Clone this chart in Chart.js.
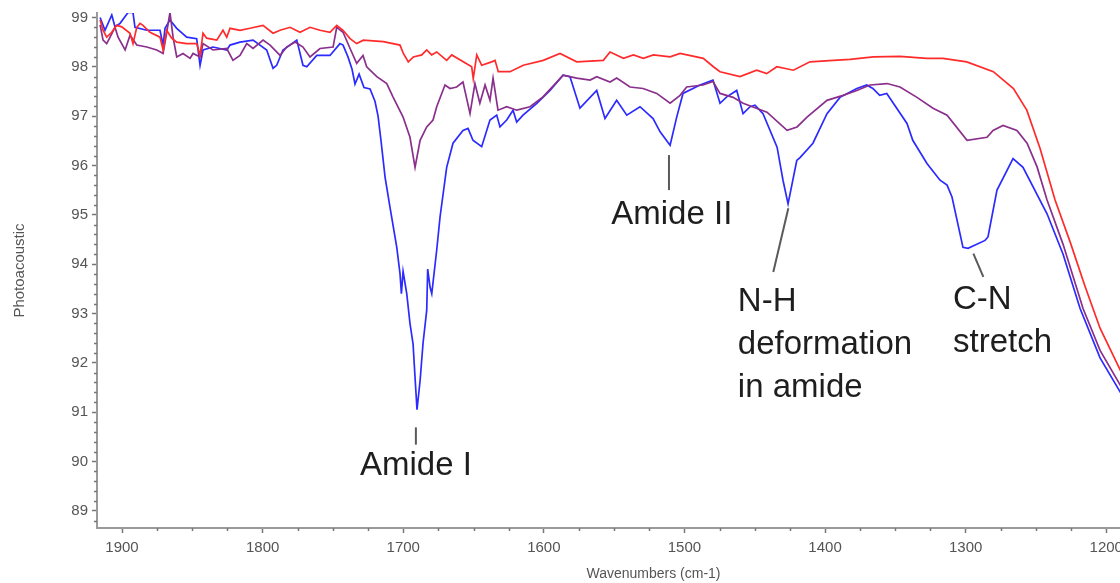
<!DOCTYPE html>
<html>
<head>
<meta charset="utf-8">
<title>Photoacoustic spectrum</title>
<script src="https://cdn.jsdelivr.net/npm/chart.js@4.4.1/dist/chart.umd.min.js"></script>
<style>
  html, body { margin: 0; padding: 0; background: #fff; overflow: hidden; }
  #wrap { width: 1210px; height: 583px; }
</style>
</head>
<body>
<div id="wrap"><canvas id="spectrum" width="1210" height="583"></canvas></div>
<script>
// wavenumbers (cm-1) and photoacoustic signal
const redWn = [1915.6,1913.5,1910.9,1907.3,1903.8,1900.2,1894.3,1892.2,1889.5,1887.2,1885.1,1880.1,1873.0,1870.8,1868.2,1864.7,1861.1,1854.0,1846.9,1844.5,1842.4,1839.8,1832.6,1828.2,1825.5,1823.2,1816.1,1809.0,1799.7,1792.6,1787.6,1780.5,1773.4,1766.3,1759.2,1752.1,1747.3,1742.8,1737.8,1733.1,1728.4,1714.2,1702.3,1699.9,1696.4,1692.8,1686.8,1683.3,1679.8,1676.2,1669.1,1665.5,1657.3,1651.3,1650.2,1647.7,1644.2,1637.1,1634.7,1632.4,1624.0,1614.6,1600.4,1588.5,1576.6,1557.7,1552.9,1543.4,1536.3,1529.2,1522.1,1510.2,1503.1,1486.6,1479.4,1474.7,1460.5,1448.6,1441.5,1434.3,1422.5,1410.7,1394.1,1382.2,1365.6,1346.7,1327.7,1316.1,1299.2,1280.3,1266.0,1256.5,1247.1,1236.4,1225.7,1215.1,1204.4,1189.5];
const redVal = [98.95,98.74,98.6,98.7,98.84,98.81,98.68,98.47,98.8,98.88,98.84,98.7,98.6,98.34,98.74,98.58,98.5,98.47,98.47,98.23,98.68,98.58,98.54,98.74,98.6,98.78,98.74,98.78,98.84,98.68,98.74,98.8,98.7,98.8,98.74,98.7,98.84,98.74,98.57,98.47,98.54,98.51,98.44,98.27,98.1,98.2,98.24,98.34,98.24,98.3,98.13,98.24,98.1,98.0,97.76,98.24,98.03,98.1,98.13,97.9,97.9,98.03,98.13,98.27,98.1,98.13,98.3,98.17,98.24,98.17,98.24,98.2,98.27,98.17,98.0,97.9,97.8,97.93,97.86,98.0,97.93,98.1,98.13,98.15,98.2,98.21,98.17,98.17,98.1,97.9,97.56,97.12,96.35,95.3,94.45,93.55,92.7,91.82];

const purpleWn = [1915.6,1913.5,1910.9,1908.5,1905.0,1902.8,1897.8,1894.3,1889.5,1882.4,1875.3,1870.8,1868.2,1865.9,1863.7,1861.1,1856.6,1851.6,1849.5,1844.5,1842.4,1835.3,1825.5,1821.1,1816.1,1811.3,1806.8,1799.7,1794.7,1787.6,1782.9,1776.9,1771.3,1766.3,1759.2,1749.9,1747.3,1742.8,1737.8,1733.1,1728.6,1726.0,1718.8,1711.7,1707.3,1700.1,1695.2,1691.6,1688.0,1683.3,1678.8,1676.2,1670.3,1666.7,1662.0,1657.5,1652.5,1649.0,1645.5,1641.8,1638.3,1636.1,1632.6,1626.4,1619.3,1609.8,1600.6,1590.8,1586.3,1576.6,1567.1,1562.4,1552.9,1548.2,1538.7,1529.4,1519.7,1510.2,1503.1,1498.4,1486.8,1479.7,1474.7,1465.4,1458.3,1441.3,1427.0,1419.9,1412.8,1398.6,1387.2,1377.4,1368.0,1355.9,1346.7,1334.6,1323.2,1313.2,1299.0,1284.8,1280.5,1273.4,1263.5,1256.3,1249.2,1242.1,1230.7,1216.5,1204.4,1189.5];
const purpleVal = [98.85,98.54,98.47,98.6,98.8,98.6,98.34,98.64,98.44,98.4,98.34,98.27,98.7,99.1,98.6,98.2,98.27,98.17,98.27,98.2,98.47,98.34,98.37,98.13,98.23,98.47,98.37,98.54,98.44,98.23,98.4,98.5,98.4,98.2,98.37,98.4,98.8,98.7,98.37,98.07,98.23,98.0,97.8,97.66,97.39,96.98,96.57,95.96,96.51,96.78,96.92,97.19,97.63,97.56,97.59,97.69,97.05,97.66,97.26,97.63,97.32,97.77,97.12,97.19,97.12,97.19,97.39,97.69,97.83,97.77,97.73,97.8,97.69,97.77,97.59,97.56,97.46,97.26,97.42,97.59,97.63,97.7,97.46,97.38,97.26,97.08,96.71,96.78,96.98,97.32,97.42,97.52,97.63,97.66,97.59,97.38,97.16,97.02,96.51,96.57,96.71,96.81,96.71,96.45,95.97,95.3,94.4,93.1,92.25,91.52];

const blueWn = [1915.6,1912.1,1907.3,1905.0,1901.4,1895.7,1892.2,1890.8,1882.4,1873.0,1870.8,1869.4,1865.9,1861.1,1854.0,1846.9,1844.5,1842.4,1835.3,1825.5,1823.2,1816.1,1806.8,1797.1,1792.6,1790.0,1785.5,1775.7,1771.3,1768.6,1761.5,1752.1,1745.0,1742.8,1739.3,1736.4,1734.3,1731.4,1727.9,1723.6,1720.1,1717.9,1715.8,1712.9,1709.4,1704.6,1702.3,1701.3,1700.1,1697.5,1695.2,1693.0,1691.6,1690.2,1688.0,1685.9,1683.3,1682.6,1680.9,1679.7,1676.2,1673.8,1669.1,1664.6,1657.5,1653.9,1650.4,1644.2,1638.3,1633.5,1631.2,1626.4,1621.9,1619.3,1614.8,1605.0,1595.6,1586.3,1581.4,1574.3,1562.4,1556.5,1548.2,1541.0,1531.6,1522.3,1517.3,1510.2,1505.5,1501.0,1488.9,1479.7,1474.7,1469.9,1462.8,1458.3,1453.3,1449.8,1444.1,1434.1,1429.9,1426.3,1420.1,1417.8,1408.6,1398.6,1389.4,1377.4,1370.3,1366.0,1361.1,1356.1,1341.7,1337.6,1327.5,1318.2,1313.2,1309.7,1301.9,1298.3,1286.2,1284.1,1277.7,1266.3,1259.2,1242.1,1230.7,1218.6,1204.4,1189.5];
const blueVal = [99.0,98.74,99.05,98.81,98.88,99.1,99.1,98.8,98.74,98.74,98.44,98.78,98.95,98.78,98.6,98.57,98.03,98.34,98.4,98.34,98.44,98.5,98.54,98.34,97.97,98.03,98.34,98.54,98.03,98.0,98.23,98.23,98.47,98.44,98.2,97.95,97.65,97.85,97.58,97.55,97.3,97.0,96.5,95.76,95.15,94.34,93.81,93.4,93.85,93.4,92.8,92.38,91.7,91.05,91.64,92.4,93.06,93.9,93.53,93.4,94.28,94.96,95.96,96.45,96.71,96.75,96.51,96.38,96.92,97.02,96.78,96.92,97.12,96.88,97.02,97.26,97.52,97.83,97.8,97.16,97.52,96.95,97.32,97.02,97.19,96.95,96.68,96.41,96.98,97.46,97.63,97.73,97.26,97.39,97.52,97.05,97.19,97.22,97.05,96.37,95.7,95.22,96.1,96.16,96.45,97.05,97.38,97.56,97.63,97.56,97.42,97.46,96.85,96.51,96.04,95.7,95.6,95.36,94.34,94.32,94.48,94.55,95.5,96.14,95.96,95.02,94.2,93.1,92.1,91.38];

const xTickValues = [1900, 1800, 1700, 1600, 1500, 1400, 1300, 1200];
const yTickValues = [89, 90, 91, 92, 93, 94, 95, 96, 97, 98, 99];

// peak labels, anchored in data units
const peakLabels = [
  { lines: ['Amide I'], wn: 1691, val: 89.72, align: 'center', from: [1691, 90.69], to: [1691, 90.34] },
  { lines: ['Amide II'], wn: 1509, val: 94.82, align: 'center', from: [1511, 96.21], to: [1511, 95.5] },
  { lines: ['N-H', 'deformation', 'in amide'], wn: 1462, val: 93.05, align: 'left', from: [1426.1, 95.13], to: [1436.8, 93.84] },
  { lines: ['C-N', 'stretch'], wn: 1309, val: 93.08, align: 'left', from: [1294.5, 94.21], to: [1287.4, 93.74] }
];

function toPoints(wn, val) {
  return wn.map((w, i) => ({ x: w, y: val[i] }));
}

const minorTicks = {
  id: 'minorTicks',
  afterDraw(chart) {
    const { ctx, chartArea } = chart;
    const x = chart.scales.x, y = chart.scales.y;
    ctx.save();
    ctx.strokeStyle = '#777';
    ctx.lineWidth = 1.5;
    ctx.beginPath();
    for (let w = 1900; w > x.min; w -= 25) {
      if (w % 100 === 0) continue;
      const px = Math.round(x.getPixelForValue(w)) + 0.5;
      ctx.moveTo(px, chartArea.bottom);
      ctx.lineTo(px, chartArea.bottom + 3);
    }
    for (let k = 444; k <= 495; k++) {
      if (k % 5 === 0) continue;
      const py = Math.round(y.getPixelForValue(k * 0.2)) + 0.5;
      ctx.moveTo(chartArea.left, py);
      ctx.lineTo(chartArea.left - 3, py);
    }
    ctx.stroke();
    ctx.restore();
  }
};

const peakText = {
  id: 'peakText',
  afterDraw(chart) {
    const { ctx } = chart;
    const x = chart.scales.x, y = chart.scales.y;
    ctx.save();
    ctx.strokeStyle = '#5a5a5a';
    ctx.lineWidth = 2;
    ctx.fillStyle = '#1e1e1e';
    ctx.font = '33px "Liberation Sans", Arial, sans-serif';
    ctx.textBaseline = 'alphabetic';
    peakLabels.forEach(p => {
      ctx.beginPath();
      ctx.moveTo(x.getPixelForValue(p.from[0]), y.getPixelForValue(p.from[1]));
      ctx.lineTo(x.getPixelForValue(p.to[0]), y.getPixelForValue(p.to[1]));
      ctx.stroke();
      ctx.textAlign = p.align;
      const px = x.getPixelForValue(p.wn);
      const py = y.getPixelForValue(p.val);
      p.lines.forEach((line, i) => ctx.fillText(line, px, py + i * 43));
    });
    ctx.restore();
  }
};

Chart.defaults.font.family = '"Liberation Sans", Arial, sans-serif';

new Chart(document.getElementById('spectrum'), {
  type: 'line',
  data: {
    datasets: [
      { label: 'red', data: toPoints(redWn, redVal), borderColor: '#ff2b2b' },
      { label: 'purple', data: toPoints(purpleWn, purpleVal), borderColor: '#8a2f8c' },
      { label: 'blue', data: toPoints(blueWn, blueVal), borderColor: '#2b2bff' }
    ]
  },
  options: {
    responsive: false,
    devicePixelRatio: 1,
    animation: false,
    layout: { padding: { top: 13, right: 0, bottom: 0, left: 0 } },
    elements: {
      point: { radius: 0 },
      line: { borderWidth: 1.7, tension: 0 }
    },
    plugins: { legend: { display: false }, tooltip: { enabled: false } },
    scales: {
      x: {
        type: 'linear',
        reverse: true,
        min: 1126.2,
        max: 1917.8,
        afterBuildTicks: s => { s.ticks = xTickValues.map(v => ({ value: v })); },
        afterFit: s => { s.height = 55; },
        grid: { drawOnChartArea: false, tickLength: 5, tickColor: '#777', tickWidth: 1.5 },
        border: { color: '#9a9a9a', width: 2 },
        ticks: { color: '#555', font: { size: 15 }, padding: 6, maxRotation: 0, autoSkip: false, callback: v => String(v) },
        title: { display: true, text: 'Wavenumbers (cm-1)', color: '#555', font: { size: 14 }, padding: { top: 0, bottom: 0 } }
      },
      y: {
        min: 88.65,
        max: 99.09,
        afterBuildTicks: s => { s.ticks = yTickValues.map(v => ({ value: v })); },
        afterFit: s => { s.width = 97; },
        grid: { drawOnChartArea: false, tickLength: 5, tickColor: '#777', tickWidth: 1.5 },
        border: { color: '#9a9a9a', width: 2 },
        ticks: { color: '#555', font: { size: 15 }, padding: 4, callback: v => String(v) },
        title: { display: true, text: 'Photoacoustic', color: '#555', font: { size: 15 }, padding: { top: 11, bottom: 0 } }
      }
    }
  },
  plugins: [minorTicks, peakText]
});
</script>
</body>
</html>
